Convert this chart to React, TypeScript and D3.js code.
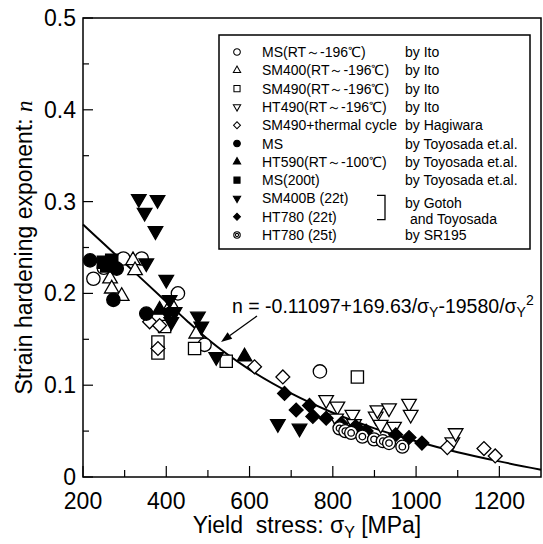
import React from 'react';
import * as d3 from 'd3';

const W = 543;
const H = 544;

// axis ticks
const xTicksMajor = [200, 400, 600, 800, 1000, 1200];
const xTicksMinor = [300, 500, 700, 900, 1100];
const yTicksMajor = [0, 0.1, 0.2, 0.3, 0.4, 0.5];
const yTickLabels = ['0', '0.1', '0.2', '0.3', '0.4', '0.5'];
const yTicksMinor = [0.05, 0.15, 0.25, 0.35, 0.45];

// fitted curve [sigmaY, n]
const fitCurve: [number, number][] = [
  [200, 0.275], [250, 0.254], [300, 0.233], [350, 0.212], [400, 0.191], [450, 0.170],
  [500, 0.150], [600, 0.117], [700, 0.091], [800, 0.070], [900, 0.053], [1000, 0.039],
  [1100, 0.027], [1200, 0.017], [1300, 0.008],
];

// data series [sigmaY (MPa), n]
const msIto: [number, number][] = [[225, 0.216], [250, 0.228], [297, 0.238], [341, 0.238], [428, 0.200], [492, 0.144], [769, 0.115]];
const sm400Ito: [number, number][] = [[265, 0.216], [269, 0.205], [293, 0.197], [320, 0.236], [325, 0.225], [412, 0.188], [472, 0.156]];
const sm490Ito: [number, number][] = [[380, 0.147], [380, 0.135], [396, 0.164], [468, 0.140], [544, 0.126], [859, 0.109]];
const ht490Ito: [number, number][] = [[784, 0.084], [811, 0.077], [808, 0.064], [847, 0.068], [851, 0.058], [903, 0.066], [907, 0.073], [915, 0.057], [935, 0.075], [947, 0.055], [983, 0.080], [987, 0.068], [1087, 0.038], [1095, 0.048]];
const sm490Thermal: [number, number][] = [[360, 0.169], [384, 0.165], [380, 0.140], [612, 0.120], [680, 0.109], [1075, 0.032], [1163, 0.031], [1190, 0.023]];
const msToyo: [number, number][] = [[217, 0.236], [273, 0.193], [281, 0.227], [352, 0.178]];
const ht590Toyo: [number, number][] = [[384, 0.182], [588, 0.131]];
const ms200Toyo: [number, number][] = [[249, 0.234], [257, 0.230], [269, 0.236]];
const sm400bGotoh: [number, number][] = [[334, 0.303], [379, 0.302], [348, 0.288], [374, 0.268], [352, 0.233], [400, 0.215], [408, 0.193], [404, 0.178], [420, 0.180], [412, 0.169], [476, 0.175], [484, 0.164], [520, 0.131], [668, 0.058], [720, 0.053]];
const ht780Gotoh: [number, number][] = [[684, 0.091], [712, 0.073], [744, 0.078], [752, 0.066], [784, 0.064], [820, 0.058], [855, 0.055], [880, 0.050], [951, 0.046], [983, 0.043], [1014, 0.037]];
const ht780SR195: [number, number][] = [[816, 0.053], [830, 0.050], [844, 0.048], [871, 0.044], [899, 0.041], [920, 0.039], [935, 0.037], [967, 0.033]];

const legendLabels = [
  'MS(RT～-196℃)', 'SM400(RT～-196℃)', 'SM490(RT～-196℃)', 'HT490(RT～-196℃)',
  'SM490+thermal cycle', 'MS', 'HT590(RT～-100℃)', 'MS(200t)', 'SM400B (22t)', 'HT780 (22t)', 'HT780 (25t)',
];
const legendSources = [
  'by Ito', 'by Ito', 'by Ito', 'by Ito', 'by Hagiwara', 'by Toyosada et.al.',
  'by Toyosada et.al.', 'by Toyosada et.al.', '', '', 'by SR195',
];

type Shape = 'circle' | 'triUp' | 'square' | 'triDown' | 'diamond' | 'dcircle';
const seriesList: { data: [number, number][]; shape: Shape; filled: boolean }[] = [
  { data: msIto, shape: 'circle', filled: false },
  { data: sm400Ito, shape: 'triUp', filled: false },
  { data: sm490Ito, shape: 'square', filled: false },
  { data: ht490Ito, shape: 'triDown', filled: false },
  { data: sm490Thermal, shape: 'diamond', filled: false },
  { data: msToyo, shape: 'circle', filled: true },
  { data: ht590Toyo, shape: 'triUp', filled: true },
  { data: ms200Toyo, shape: 'square', filled: true },
  { data: sm400bGotoh, shape: 'triDown', filled: true },
  { data: ht780Gotoh, shape: 'diamond', filled: true },
  { data: ht780SR195, shape: 'dcircle', filled: false },
];

const FONT = '"Liberation Sans", Arial, sans-serif';

function Marker({ shape, filled, x, y, s }: { shape: Shape; filled: boolean; x: number; y: number; s: number }) {
  const fill = filled ? '#000' : '#fff';
  const sw = 1.3 * Math.max(0.8, s);
  if (shape === 'dcircle') {
    const r = 6.5 * s;
    return (
      <g transform={`translate(${x},${y})`}>
        <circle r={r} fill="#fff" stroke="#000" strokeWidth={sw} />
        <circle r={r * 0.5} fill="#fff" stroke="#000" strokeWidth={sw} />
      </g>
    );
  }
  let type: d3.SymbolType = d3.symbolCircle;
  let size = 140;
  let rot = 0;
  if (shape === 'square') { type = d3.symbolSquare; size = 150; }
  if (shape === 'triUp') { type = d3.symbolTriangle; size = 92; }
  if (shape === 'triDown') { type = d3.symbolTriangle; size = 92; rot = 180; }
  if (shape === 'diamond') { type = d3.symbolSquare; size = 96; rot = 45; }
  const d = d3.symbol(type, size * s * s)() || '';
  return <path d={d} transform={`translate(${x},${y}) rotate(${rot})`} fill={fill} stroke="#000" strokeWidth={sw} />;
}

export default function App() {
  const x = d3.scaleLinear().domain([200, 1300]).range([83, 541]);
  const y = d3.scaleLinear().domain([0, 0.5]).range([477, 18]);
  const line = d3.line<[number, number]>().x(d => x(d[0])).y(d => y(d[1])).curve(d3.curveMonotoneX);

  const legendX = 219, legendY = 35, legendW = 311, legendH = 214;
  const rowY = (i: number) => 52 + i * 18.3;

  // arrow
  const ax0 = 257, ay0 = 316, ax1 = 221, ay1 = 342;
  const ang = Math.atan2(ay1 - ay0, ax1 - ax0);
  const ahL = 11, ahW = 4;
  const bx = ax1 - ahL * Math.cos(ang), by = ay1 - ahL * Math.sin(ang);
  const head = `M${ax1},${ay1}L${bx + ahW * Math.sin(ang)},${by - ahW * Math.cos(ang)}L${bx - ahW * Math.sin(ang)},${by + ahW * Math.cos(ang)}Z`;

  return (
    <svg width={W} height={H} style={{ position: 'absolute', left: 0, top: 0, background: '#fff' }} fontFamily={FONT}>
      <rect x={0} y={0} width={W} height={H} fill="#fff" />
      {/* frame */}
      <rect x={x(200)} y={y(0.5)} width={x(1300) - x(200)} height={y(0) - y(0.5)} fill="none" stroke="#000" strokeWidth={1.5} />
      {/* ticks */}
      {yTicksMajor.map((t, i) => (
        <g key={'ym' + i}>
          <line x1={x(200)} x2={x(200) + 10} y1={y(t)} y2={y(t)} stroke="#000" strokeWidth={1.2} />
          <text x={76} y={y(t) + 8} textAnchor="end" fontSize={23}>{yTickLabels[i]}</text>
        </g>
      ))}
      {yTicksMinor.map((t, i) => (
        <line key={'yn' + i} x1={x(200)} x2={x(200) + 6} y1={y(t)} y2={y(t)} stroke="#000" strokeWidth={1.2} />
      ))}
      {xTicksMajor.map((t, i) => (
        <g key={'xm' + i}>
          <line x1={x(t)} x2={x(t)} y1={y(0)} y2={y(0) - 11} stroke="#000" strokeWidth={1.2} />
          <text x={x(t)} y={509} textAnchor="middle" fontSize={23}>{t}</text>
        </g>
      ))}
      {xTicksMinor.map((t, i) => (
        <line key={'xn' + i} x1={x(t)} x2={x(t)} y1={y(0)} y2={y(0) - 7} stroke="#000" strokeWidth={1.2} />
      ))}
      {/* axis titles */}
      <text x={307} y={533} textAnchor="middle" fontSize={23}>
        Yield{'\u00a0\u00a0'}stress: σ<tspan fontSize={16} dy={5}>Y</tspan><tspan dy={-5}> [MPa]</tspan>
      </text>
      <text transform={`translate(32,${(y(0) + y(0.5)) / 2}) rotate(-90)`} textAnchor="middle" fontSize={23}>
        Strain hardening exponent: <tspan fontFamily='"Liberation Serif", serif' fontStyle="italic">n</tspan>
      </text>

      {/* fit curve */}
      <path d={line(fitCurve) || ''} fill="none" stroke="#000" strokeWidth={2} />

      {/* data */}
      {seriesList.map((s, si) => (
        <g key={'s' + si}>
          {s.data.map((d, di) => (
            <Marker key={di} shape={s.shape} filled={s.filled} x={x(d[0])} y={y(d[1])} s={1} />
          ))}
        </g>
      ))}

      {/* equation + arrow */}
      <text x={232} y={313} fontSize={19.5}>
        n = -0.11097+169.63/σ<tspan fontSize={14} dy={4}>Y</tspan><tspan dy={-4}>-19580/σ</tspan><tspan fontSize={14} dy={4}>Y</tspan><tspan fontSize={14} dy={-12}>2</tspan>
      </text>
      <line x1={ax0} y1={ay0} x2={bx} y2={by} stroke="#000" strokeWidth={1.3} />
      <path d={head} fill="#000" />

      {/* legend */}
      <rect x={legendX} y={legendY} width={legendW} height={legendH} fill="#fff" stroke="#000" strokeWidth={1.5} />
      {seriesList.map((s, i) => (
        <g key={'l' + i}>
          <Marker shape={s.shape} filled={s.filled} x={237} y={rowY(i)} s={0.5} />
          <text x={262} y={rowY(i) + 5} fontSize={14}>{legendLabels[i]}</text>
          {legendSources[i] && <text x={405} y={rowY(i) + 5} fontSize={14}>{legendSources[i]}</text>}
        </g>
      ))}
      <path d={`M377,${rowY(8) - 3}H385V${rowY(9) + 3}H377`} fill="none" stroke="#000" strokeWidth={1.3} />
      <text x={405} y={rowY(8) + 10} fontSize={14}>by Gotoh</text>
      <text x={410} y={rowY(9) + 7} fontSize={14}>and Toyosada</text>
    </svg>
  );
}
